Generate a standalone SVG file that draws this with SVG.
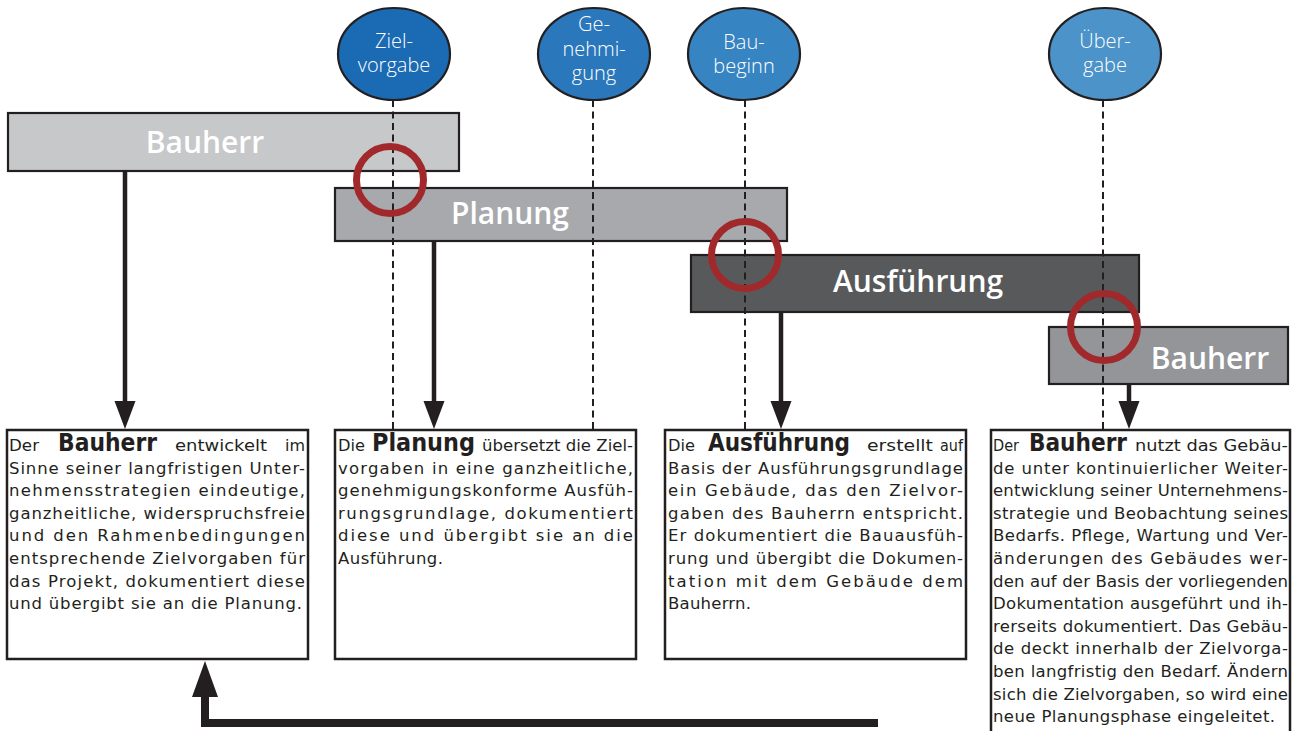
<svg xmlns="http://www.w3.org/2000/svg" width="1298" height="731" viewBox="0 0 1298 731">
  <style>
    .bar { stroke: #231f20; stroke-width: 2.2; }
    .bar-label { font-family: "Open Sans", "Noto Sans", sans-serif; font-weight: 600; font-size: 30px; fill: #ffffff; text-anchor: middle; }
    .milestone { stroke: #231f20; stroke-width: 2.2; }
    .ms-label { font-family: "Open Sans", "Noto Sans", sans-serif; font-weight: 300; font-size: 20px; fill: #ffffff; text-anchor: middle; }
    .ring { fill: none; stroke: #a1292c; stroke-width: 7; }
    .dash { stroke: #231f20; stroke-width: 2; stroke-dasharray: 7 4.5; fill: none; }
    .shaft { stroke: #231f20; stroke-width: 4.5; fill: none; }
    .head { fill: #231f20; }
    .box { fill: #ffffff; stroke: #231f20; stroke-width: 2.5; }
    .t { font-family: "DejaVu Sans", "Liberation Sans", sans-serif; font-size: 16.5px; fill: #231f20; }
    .tb { font-family: "DejaVu Sans", "Liberation Sans", sans-serif; font-size: 24px; font-weight: bold; fill: #231f20; }
  </style>

  <rect width="1298" height="731" fill="#ffffff"/>

  <!-- phase bars -->
  <g id="bar-bauherr">
    <rect class="bar" x="8" y="113" width="451" height="58" fill="#c7c8ca"/>
    <text class="bar-label" x="205" y="153">Bauherr</text>
  </g>
  <g id="bar-planung">
    <rect class="bar" x="335" y="188" width="452" height="53" fill="#a7a9ac"/>
    <text class="bar-label" x="510" y="224">Planung</text>
  </g>
  <g id="bar-ausfuehrung">
    <rect class="bar" x="691" y="255" width="448" height="57" fill="#58595b"/>
    <text class="bar-label" x="918" y="292" font-size="31">Ausführung</text>
  </g>
  <g id="bar-bauherr-2">
    <rect class="bar" x="1049" y="327" width="239" height="57" fill="#939598"/>
    <text class="bar-label" x="1210" y="369">Bauherr</text>
  </g>

  <!-- milestones -->
  <g id="ms-zielvorgabe">
    <ellipse class="milestone" cx="394" cy="54" rx="56" ry="46" fill="#1a6ab4"/>
    <text class="ms-label" x="394" y="48">Ziel-</text>
    <text class="ms-label" x="394" y="72">vorgabe</text>
  </g>
  <g id="ms-genehmigung">
    <ellipse class="milestone" cx="594" cy="54" rx="56" ry="46" fill="#2a77bc"/>
    <text class="ms-label" x="594" y="31">Ge-</text>
    <text class="ms-label" x="594" y="56">nehmi-</text>
    <text class="ms-label" x="594" y="80">gung</text>
  </g>
  <g id="ms-baubeginn">
    <ellipse class="milestone" cx="744" cy="54" rx="56" ry="46" fill="#3784c2"/>
    <text class="ms-label" x="744" y="49">Bau-</text>
    <text class="ms-label" x="744" y="73">beginn</text>
  </g>
  <g id="ms-uebergabe">
    <ellipse class="milestone" cx="1105" cy="54" rx="56" ry="46" fill="#4b93c8"/>
    <text class="ms-label" x="1105" y="48">Über-</text>
    <text class="ms-label" x="1105" y="72">gabe</text>
  </g>

  <!-- text boxes -->
  <g id="box-bauherr">
    <rect class="box" x="7" y="430" width="301" height="229"/>
    <text class="t" x="9" y="451" textLength="30" lengthAdjust="spacingAndGlyphs">Der</text>
    <text class="tb" x="58" y="451" textLength="99" lengthAdjust="spacingAndGlyphs">Bauherr</text>
    <text class="t" x="175" y="451" textLength="92" lengthAdjust="spacingAndGlyphs">entwickelt</text>
    <text class="t" x="285" y="451" textLength="20" lengthAdjust="spacingAndGlyphs">im</text>
    <text class="t" x="9" y="473.6" textLength="296" lengthAdjust="spacing">Sinne seiner langfristigen Unter-</text>
    <text class="t" x="9" y="496.2" textLength="296" lengthAdjust="spacing">nehmensstrategien  eindeutige,</text>
    <text class="t" x="9" y="518.8" textLength="296" lengthAdjust="spacing">ganzheitliche, widerspruchsfreie</text>
    <text class="t" x="9" y="541.4" textLength="296" lengthAdjust="spacing">und den Rahmenbedingungen</text>
    <text class="t" x="9" y="564" textLength="296" lengthAdjust="spacing">entsprechende Zielvorgaben für</text>
    <text class="t" x="9" y="586.6" textLength="296" lengthAdjust="spacing">das Projekt, dokumentiert diese</text>
    <text class="t" x="9" y="609.2" textLength="293" lengthAdjust="spacing">und übergibt sie an die Planung.</text>
  </g>

  <g id="box-planung">
    <rect class="box" x="335" y="430" width="301" height="229"/>
    <text class="t" x="338" y="451" textLength="27" lengthAdjust="spacingAndGlyphs">Die</text>
    <text class="tb" x="372" y="451" textLength="103" lengthAdjust="spacingAndGlyphs">Planung</text>
    <text class="t" x="482" y="451" textLength="151" lengthAdjust="spacingAndGlyphs">übersetzt die Ziel-</text>
    <text class="t" x="338" y="473.6" textLength="295" lengthAdjust="spacing">vorgaben in eine ganzheitliche,</text>
    <text class="t" x="338" y="496.2" textLength="295" lengthAdjust="spacing">genehmigungskonforme Ausfüh-</text>
    <text class="t" x="338" y="518.8" textLength="295" lengthAdjust="spacing">rungsgrundlage,   dokumentiert</text>
    <text class="t" x="338" y="541.4" textLength="295" lengthAdjust="spacing">diese und übergibt sie an die</text>
    <text class="t" x="338" y="564" textLength="105" lengthAdjust="spacing">Ausführung.</text>
  </g>

  <g id="box-ausfuehrung">
    <rect class="box" x="665" y="430" width="301" height="229"/>
    <text class="t" x="668" y="451" textLength="27" lengthAdjust="spacingAndGlyphs">Die</text>
    <text class="tb" x="708" y="451" textLength="142" lengthAdjust="spacingAndGlyphs">Ausführung</text>
    <text class="t" x="867" y="451" textLength="66" lengthAdjust="spacingAndGlyphs">erstellt</text>
    <text class="t" x="940" y="451" textLength="23" lengthAdjust="spacingAndGlyphs">auf</text>
    <text class="t" x="668" y="473.6" textLength="295" lengthAdjust="spacing">Basis der Ausführungsgrundlage</text>
    <text class="t" x="668" y="496.2" textLength="295" lengthAdjust="spacing">ein Gebäude, das den Zielvor-</text>
    <text class="t" x="668" y="518.8" textLength="295" lengthAdjust="spacing">gaben des Bauherrn entspricht.</text>
    <text class="t" x="668" y="541.4" textLength="295" lengthAdjust="spacing">Er dokumentiert die Bauausfüh-</text>
    <text class="t" x="668" y="564" textLength="295" lengthAdjust="spacing">rung und übergibt die Dokumen-</text>
    <text class="t" x="668" y="586.6" textLength="295" lengthAdjust="spacing">tation mit dem Gebäude dem</text>
    <text class="t" x="668" y="609.2" textLength="83" lengthAdjust="spacing">Bauherrn.</text>
  </g>

  <g id="box-bauherr-nutzung">
    <rect class="box" x="991" y="430" width="299" height="340"/>
    <text class="t" x="993" y="451" textLength="26" lengthAdjust="spacingAndGlyphs">Der</text>
    <text class="tb" x="1029" y="451" textLength="98" lengthAdjust="spacingAndGlyphs">Bauherr</text>
    <text class="t" x="1135" y="451" textLength="153" lengthAdjust="spacingAndGlyphs">nutzt das Gebäu-</text>
    <text class="t" x="993" y="473.6" textLength="295" lengthAdjust="spacing">de unter kontinuierlicher Weiter-</text>
    <text class="t" x="993" y="496.2" textLength="295" lengthAdjust="spacing">entwicklung seiner Unternehmens-</text>
    <text class="t" x="993" y="518.8" textLength="295" lengthAdjust="spacing">strategie und Beobachtung seines</text>
    <text class="t" x="993" y="541.4" textLength="295" lengthAdjust="spacing">Bedarfs. Pflege, Wartung und Ver-</text>
    <text class="t" x="993" y="564" textLength="295" lengthAdjust="spacing">änderungen des Gebäudes wer-</text>
    <text class="t" x="993" y="586.6" textLength="295" lengthAdjust="spacing">den auf der Basis der vorliegenden</text>
    <text class="t" x="993" y="609.2" textLength="295" lengthAdjust="spacing">Dokumentation ausgeführt und ih-</text>
    <text class="t" x="993" y="631.8" textLength="295" lengthAdjust="spacing">rerseits dokumentiert. Das Gebäu-</text>
    <text class="t" x="993" y="654.4" textLength="295" lengthAdjust="spacing">de deckt innerhalb der Zielvorga-</text>
    <text class="t" x="993" y="677" textLength="295" lengthAdjust="spacing">ben langfristig den Bedarf. Ändern</text>
    <text class="t" x="993" y="699.6" textLength="295" lengthAdjust="spacing">sich die Zielvorgaben, so wird eine</text>
    <text class="t" x="993" y="722.2" textLength="282" lengthAdjust="spacing">neue Planungsphase eingeleitet.</text>
  </g>

  <!-- connectors: hand-over arrows, milestone guide lines, transition rings, feedback loop -->
  <g id="connectors">
    <line class="shaft" x1="125" y1="171" x2="125" y2="404"/>
    <polygon class="head" points="114.5,401 135.5,401 125,429"/>
    <line class="shaft" x1="434" y1="241" x2="434" y2="404"/>
    <polygon class="head" points="423.5,401 444.5,401 434,429"/>
    <line class="shaft" x1="781" y1="312" x2="781" y2="404"/>
    <polygon class="head" points="770.5,401 791.5,401 781,429"/>
    <line class="shaft" x1="1129" y1="384" x2="1129" y2="404"/>
    <polygon class="head" points="1118.5,401 1139.5,401 1129,429"/>

    <line class="dash" x1="393" y1="100" x2="393" y2="430"/>
    <line class="dash" x1="593" y1="100" x2="593" y2="430"/>
    <line class="dash" x1="745" y1="100" x2="745" y2="430"/>
    <line class="dash" x1="1103" y1="100" x2="1103" y2="430"/>

    <circle class="ring" cx="390" cy="180" r="33.5"/>
    <circle class="ring" cx="745" cy="255" r="33.5"/>
    <circle class="ring" cx="1104" cy="327" r="33.5"/>

    <polyline points="878,723 205,723 205,695" fill="none" stroke="#231f20" stroke-width="8"/>
    <polygon class="head" points="192,697 218,697 205,661"/>
  </g>
</svg>
